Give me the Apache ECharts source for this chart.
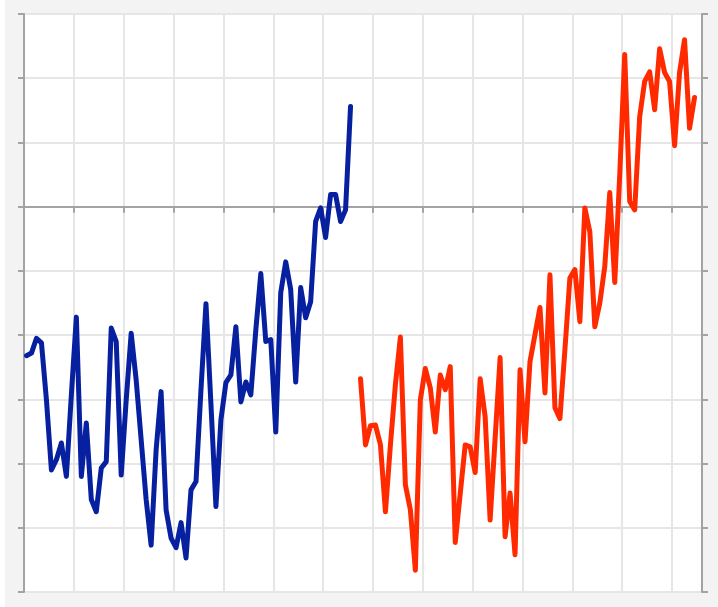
<!DOCTYPE html>
<html>
<head>
<meta charset="utf-8">
<script src="https://cdn.jsdelivr.net/npm/echarts@6/dist/echarts.min.js"></script>
<style>
  html, body { margin: 0; padding: 0; background: #ffffff; }
  #chart { position: absolute; left: 5px; top: 0; width: 713px; height: 607px; }
</style>
</head>
<body>
<div id="chart"></div>
<script>
// Number of category slots on the x axis (one per observation)
const categoryCount = 136;
const categories = Array.from({ length: categoryCount }, (_, i) => String(i + 1));

// First series (blue), starting at category index 0
const blueStart = 0;
const blueValues = [
  -2.32, -2.28, -2.05, -2.12, -3.01, -4.10, -3.94, -3.68, -4.20, -2.93,
  -1.72, -4.20, -3.37, -4.56, -4.75, -4.07, -3.97, -1.89, -2.10, -4.18,
  -3.01, -1.97, -2.70, -3.63, -4.56, -5.27, -3.79, -2.88, -4.72, -5.16,
  -5.31, -4.92, -5.47, -4.41, -4.28, -2.85, -1.51, -3.08, -4.67, -3.32,
  -2.74, -2.62, -1.87, -3.04, -2.73, -2.93, -1.92, -1.04, -2.10, -2.07,
  -3.51, -1.34, -0.86, -1.29, -2.73, -1.26, -1.73, -1.48, -0.23, -0.02,
  -0.48, 0.19, 0.19, -0.23, -0.05, 1.56
];

// Second series (red), starting at category index 67
const redStart = 67;
const redValues = [
  -2.68, -3.71, -3.41, -3.40, -3.71, -4.75, -3.71, -2.77, -2.03, -4.33,
  -4.72, -5.66, -3.01, -2.52, -2.82, -3.51, -2.62, -2.85, -2.49, -5.23,
  -4.47, -3.71, -3.74, -4.14, -2.68, -3.27, -4.88, -3.61, -2.35, -5.14,
  -4.46, -5.42, -2.54, -3.66, -2.41, -1.99, -1.57, -2.90, -1.06, -3.13,
  -3.30, -2.23, -1.11, -0.98, -1.79, -0.02, -0.39, -1.87, -1.50, -0.93,
  0.22, -1.18, 0.50, 2.37, 0.08, -0.05, 1.40, 1.95, 2.10, 1.51,
  2.46, 2.09, 1.95, 0.95, 2.09, 2.60, 1.22, 1.70
];

// Y axis range
const yMin = -6;
const yMax = 3;
const yStep = 1;

function place(values, start) {
  const out = new Array(categoryCount).fill(null);
  values.forEach((v, i) => { out[start + i] = v; });
  return out;
}

const axisGray = '#a3a3a3';
const gridGray = '#e6e6e6';

const chart = echarts.init(document.getElementById('chart'), null, { renderer: 'canvas' });
chart.setOption({
  animation: false,
  backgroundColor: '#f3f3f3',
  grid: {
    left: 19, right: 16, top: 14, bottom: 15,
    show: true, backgroundColor: '#ffffff', borderWidth: 0
  },
  xAxis: {
    type: 'category',
    data: categories,
    boundaryGap: true,
    axisLine: { show: true, onZero: true, onZeroAxisIndex: 0, lineStyle: { color: axisGray, width: 2 } },
    axisTick: { show: true, interval: 9, length: 6, lineStyle: { color: axisGray, width: 2 } },
    axisLabel: { show: false },
    splitLine: { show: true, interval: 9, lineStyle: { color: gridGray, width: 2 } }
  },
  yAxis: [
    {
      type: 'value', position: 'left', min: yMin, max: yMax, interval: yStep,
      axisLine: { show: true, onZero: false, lineStyle: { color: axisGray, width: 2 } },
      axisTick: { show: true, length: 6, lineStyle: { color: axisGray, width: 2 } },
      axisLabel: { show: false },
      splitLine: { show: true, lineStyle: { color: gridGray, width: 2 } }
    },
    {
      type: 'value', position: 'right', min: yMin, max: yMax, interval: yStep,
      axisLine: { show: true, onZero: false, lineStyle: { color: axisGray, width: 2 } },
      axisTick: { show: true, length: 6, lineStyle: { color: axisGray, width: 2 } },
      axisLabel: { show: false },
      splitLine: { show: false }
    }
  ],
  series: [
    {
      type: 'line', data: place(blueValues, blueStart), showSymbol: false, symbol: 'none',
      connectNulls: false, z: 3,
      lineStyle: { color: '#0720a0', width: 5, cap: 'round', join: 'round' }
    },
    {
      type: 'line', data: place(redValues, redStart), showSymbol: false, symbol: 'none',
      connectNulls: false, z: 3,
      lineStyle: { color: '#ff2a00', width: 5, cap: 'round', join: 'round' }
    }
  ]
});
</script>
</body>
</html>
